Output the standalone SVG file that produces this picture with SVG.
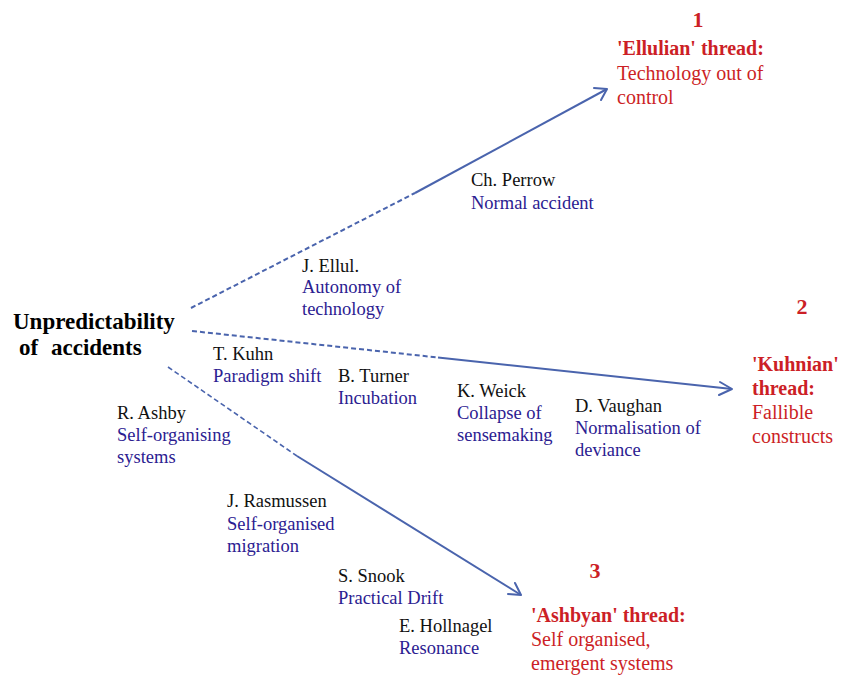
<svg xmlns="http://www.w3.org/2000/svg" width="845" height="676" viewBox="0 0 845 676">
<rect width="845" height="676" fill="#fff"/>
<g id="connectors" stroke="#4a64ad" stroke-width="2" fill="none">
  <g stroke-dasharray="5 3">
    <line x1="191" y1="308" x2="415" y2="193"/>
    <line x1="192" y1="331" x2="438" y2="357.5"/>
    <line stroke-width="1.6" x1="168" y1="367" x2="297" y2="456"/>
  </g>
  <line x1="415" y1="193" x2="607" y2="89"/>
  <line x1="438" y1="357.5" x2="732" y2="389"/>
  <line x1="297" y1="456" x2="521" y2="595"/>
  <g stroke-linecap="round" stroke-linejoin="round">
    <polyline points="594,88 607,89 601,100"/>
    <polyline points="720,382 732,389 719,395"/>
    <polyline points="515,583 521,595 508,594"/>
  </g>
</g>
<g font-family="Liberation Serif" font-size="18.5">
<g id="main" font-size="23" font-weight="bold" fill="#000">
  <text font-family="Liberation Serif" x="13" y="329">Unpredictability</text>
  <text font-family="Liberation Serif" x="19" y="355">of</text>
  <text font-family="Liberation Serif" x="51" y="355">accidents</text>
</g>
<g id="perrow">
  <text font-family="Liberation Serif" fill="#111" x="471" y="186">Ch. Perrow</text>
  <text font-family="Liberation Serif" fill="#2b2091" x="471" y="208.5">Normal accident</text>
</g>
<g id="ellul">
  <text font-family="Liberation Serif" fill="#111" x="302" y="272">J. Ellul.</text>
  <text font-family="Liberation Serif" fill="#2b2091" x="302" y="293">Autonomy of</text>
  <text font-family="Liberation Serif" fill="#2b2091" x="302" y="315">technology</text>
</g>
<g id="kuhn">
  <text font-family="Liberation Serif" fill="#111" x="213" y="360">T. Kuhn</text>
  <text font-family="Liberation Serif" fill="#2b2091" x="213" y="382">Paradigm shift</text>
</g>
<g id="turner">
  <text font-family="Liberation Serif" fill="#111" x="338" y="382">B. Turner</text>
  <text font-family="Liberation Serif" fill="#2b2091" x="338" y="404">Incubation</text>
</g>
<g id="ashby">
  <text font-family="Liberation Serif" fill="#111" x="117" y="419">R. Ashby</text>
  <text font-family="Liberation Serif" fill="#2b2091" x="117" y="441">Self-organising</text>
  <text font-family="Liberation Serif" fill="#2b2091" x="117" y="463">systems</text>
</g>
<g id="weick">
  <text font-family="Liberation Serif" fill="#111" x="457" y="397">K. Weick</text>
  <text font-family="Liberation Serif" fill="#2b2091" x="457" y="418.5">Collapse of</text>
  <text font-family="Liberation Serif" fill="#2b2091" x="457" y="440.5">sensemaking</text>
</g>
<g id="vaughan">
  <text font-family="Liberation Serif" fill="#111" x="575" y="412">D. Vaughan</text>
  <text font-family="Liberation Serif" fill="#2b2091" x="575" y="433.5">Normalisation of</text>
  <text font-family="Liberation Serif" fill="#2b2091" x="575" y="455.5">deviance</text>
</g>
<g id="rasmussen">
  <text font-family="Liberation Serif" fill="#111" x="227" y="507">J. Rasmussen</text>
  <text font-family="Liberation Serif" fill="#2b2091" x="227" y="529.5">Self-organised</text>
  <text font-family="Liberation Serif" fill="#2b2091" x="227" y="552">migration</text>
</g>
<g id="snook">
  <text font-family="Liberation Serif" fill="#111" x="338" y="582">S. Snook</text>
  <text font-family="Liberation Serif" fill="#2b2091" x="338" y="604">Practical Drift</text>
</g>
<g id="hollnagel">
  <text font-family="Liberation Serif" fill="#111" x="399" y="632">E. Hollnagel</text>
  <text font-family="Liberation Serif" fill="#2b2091" x="399" y="654">Resonance</text>
</g>
<g id="thread1" fill="#cc1f26" font-size="20">
  <text font-family="Liberation Serif" font-size="22" font-weight="bold" text-anchor="middle" x="698" y="27">1</text>
  <text font-family="Liberation Serif" font-weight="bold" x="617" y="55">'Ellulian' thread:</text>
  <text font-family="Liberation Serif" x="617" y="79.5">Technology out of</text>
  <text font-family="Liberation Serif" x="617" y="104">control</text>
</g>
<g id="thread2" fill="#cc1f26" font-size="20">
  <text font-family="Liberation Serif" font-size="22" font-weight="bold" text-anchor="middle" x="802" y="314">2</text>
  <text font-family="Liberation Serif" font-weight="bold" x="752" y="371">'Kuhnian'</text>
  <text font-family="Liberation Serif" font-weight="bold" x="752" y="395">thread:</text>
  <text font-family="Liberation Serif" x="752" y="419">Fallible</text>
  <text font-family="Liberation Serif" x="752" y="443">constructs</text>
</g>
<g id="thread3" fill="#cc1f26" font-size="20">
  <text font-family="Liberation Serif" font-size="22" font-weight="bold" text-anchor="middle" x="595" y="578">3</text>
  <text font-family="Liberation Serif" font-weight="bold" x="531" y="622">'Ashbyan' thread:</text>
  <text font-family="Liberation Serif" x="531" y="646">Self organised,</text>
  <text font-family="Liberation Serif" x="531" y="670">emergent systems</text>
</g>
</g>
</svg>
